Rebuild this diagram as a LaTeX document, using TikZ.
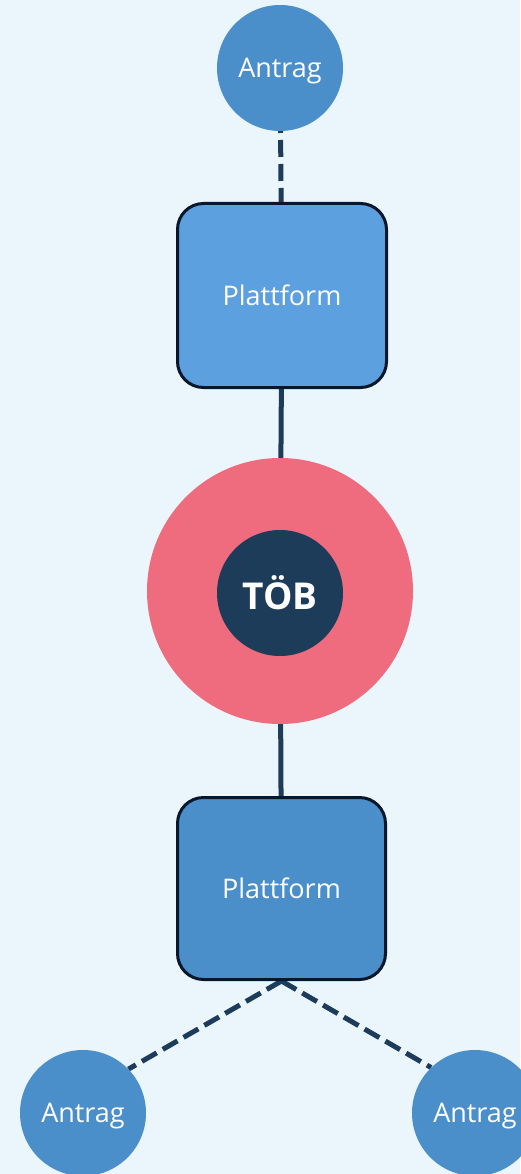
\documentclass[tikz,border=0pt]{standalone}
\usepackage{fontspec}
\setmainfont{Open Sans}
\definecolor{bgc}{HTML}{EBF5FC}
\definecolor{antc}{HTML}{4A8ECA}
\definecolor{platc}{HTML}{5CA0E0}
\definecolor{redc}{HTML}{EE6C7D}
\definecolor{darkc}{HTML}{1D3C5A}
\definecolor{borderc}{HTML}{08182A}
\pgfdeclarelayer{back}
\pgfdeclarelayer{bg}
\pgfsetlayers{back,bg,main}
\tikzset{
  antrag/.style={circle, fill=antc, minimum size=126pt, inner sep=0pt, text=white, font=\fontsize{27}{30}\selectfont, text depth=0pt},
  platbox/.style={rectangle, rounded corners=26pt, draw=borderc, line width=3pt, text=white, font=\fontsize{27}{30}\selectfont, text depth=0pt, inner sep=0pt},
  conn/.style={draw=darkc, line width=5pt},
  dashconn/.style={conn, dash pattern=on 17pt off 7pt},
}
\begin{document}
\begin{tikzpicture}[x=1pt,y=-1pt]
\begin{pgfonlayer}{back}
\fill[bgc] (0,0) rectangle (520,1174);
\end{pgfonlayer}
\useasboundingbox (0,0) rectangle (520,1174);
\node[antrag] (a1) at (280,68) {Antrag};
\node[platbox, fill=platc, minimum width=209pt, minimum height=184pt] (p1) at (282,295.5) {Plattform};
\node[circle, fill=redc, minimum size=266pt, inner sep=0pt] (red) at (280,591) {};
\node[circle, fill=darkc, minimum size=126pt, inner sep=0pt, text=white, font=\fontsize{37}{40}\selectfont\bfseries] (tob) at (280,593) {TÖB};
\node[platbox, fill=antc, minimum width=208pt, minimum height=182pt] (p2) at (281.5,888.5) {Plattform};
\node[antrag] (a2) at (83,1113) {Antrag};
\node[antrag] (a3) at (475,1113) {Antrag};
\begin{pgfonlayer}{bg}
\draw[dashconn] (a1.center) -- (p1.center);
\draw[conn] (p1.center) -- (red.center);
\draw[conn] (red.center) -- (p2.center);
\draw[dashconn] (p2.south) -- (a2.44);
\draw[dashconn] (p2.south) -- (a3.134);
\end{pgfonlayer}
\end{tikzpicture}
\end{document}
